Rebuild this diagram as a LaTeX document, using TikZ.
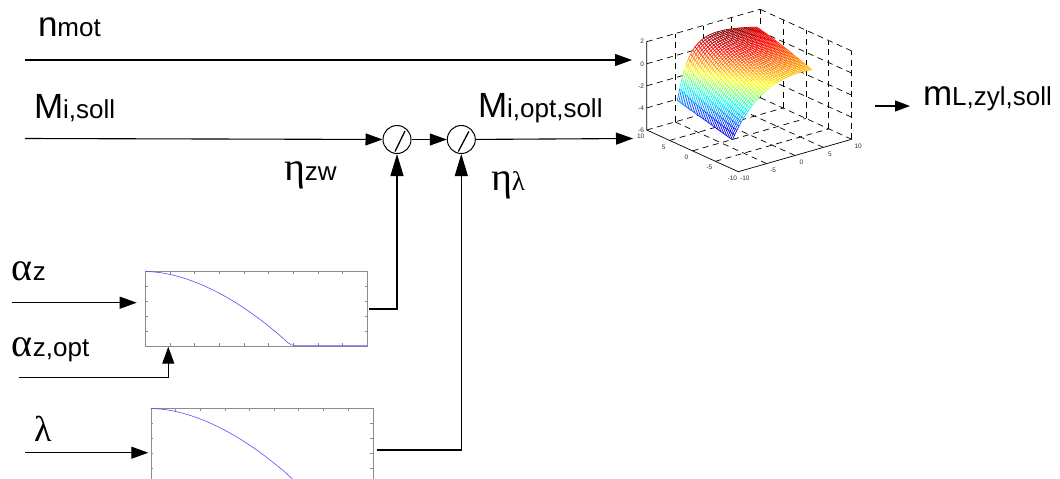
\documentclass[tikz,border=0pt]{standalone}
\usepackage{fontspec}
\setmainfont{Liberation Sans}
\newfontfamily\grk{Liberation Serif}
\usetikzlibrary{arrows.meta,calc}
\newcommand{\bigf}{\fontsize{35}{40}\selectfont}
\newcommand{\subf}{\fontsize{26}{30}\selectfont}
\newcommand{\grkf}{\grk\fontsize{40}{44}\selectfont}
\newcommand{\grks}{\grk\fontsize{27}{30}\selectfont}
\newcommand{\tickf}{\fontsize{6.5}{7}\selectfont}
\begin{document}
\begin{tikzpicture}[x=1pt,y=-1pt,
  conn/.style={line width=1.1pt, black},
  arr/.style={-{Triangle[length=17pt,width=12pt]}},
  arrup/.style={-{Triangle[length=22pt,width=13pt]}},
  arrsm/.style={-{Triangle[length=15pt,width=11pt]}},
  lbl/.style={anchor=base west, inner sep=0pt, outer sep=0pt},
  lut/.style={draw=black!45, line width=0.6pt, inner sep=0pt, minimum width=221.6pt, minimum height=74.3pt},
  curve/.style={color={rgb,255:red,80;green,80;blue,255}, line width=0.6pt},
  tk/.style={black!45, line width=0.5pt},
  grid3/.style={black, line width=0.7pt, dash pattern=on 6pt off 4.5pt},
  ax3/.style={black, line width=0.7pt},
  mesh/.style={line width=0.68pt},
  summ/.style={circle, draw, line width=1pt, minimum size=28pt, inner sep=0pt},
  tl/.style={font=\tickf, inner sep=0pt, text=black!80}]
\path[use as bounding box, fill=white] (0,0) rectangle (1060,479);
\clip (0,0) rectangle (1060,479);

% ---------- 3D map ----------
\begin{scope}[shift={(738.3,171.7)}, x={(113.4pt,32.4pt)}, y={(-91.6pt,41.7pt)}, z={(0pt,88.3pt)}]
  % floor grid
  \foreach \a in {0.25,0.5,0.75,1}{
    \draw[grid3] (\a,0,0) -- (\a,1,0);
    \draw[grid3] (0,\a,0) -- (1,\a,0);
  }
  % back-left wall (v=1)
  \foreach \a in {0.25,0.5,0.75,1}{
    \draw[grid3] (\a,1,0) -- (\a,1,1);
    \draw[grid3] (0,1,\a) -- (1,1,\a);
  }
  % back-right wall (u=1)
  \foreach \a in {0,0.25,0.5,0.75}{
    \draw[grid3] (1,\a,0) -- (1,\a,1);
  }
  \foreach \a in {0.25,0.5,0.75,1}{
    \draw[grid3] (1,0,\a) -- (1,1,\a);
  }
  % axes
  \draw[ax3] (0,1,1) -- (0,1,0) -- (0,0,0) -- (1,0,0);
  % tick labels
  \foreach \zl [count=\k from 0] in {-6,-4,-2,0,2}{
    \node[tl, anchor=east, xshift=-2.5pt, name=zlab\k] at (0,1,{\k/4}) {\zl};
  }
  \foreach \yl [count=\k from 0] in {-10,-5,0,5,10}{
    \node[tl, xshift=-6pt, yshift=-6.5pt, name=ylab\k] at (0,{\k/4},0) {\yl};
  }
  \foreach \xl [count=\k from 0] in {-10,-5,0,5,10}{
    \node[tl, xshift=6.5pt, yshift=-7pt, name=xlab\k] at ({\k/4},0,0) {\xl};
  }
  % surface vertices
  \foreach \i in {0,...,36}{
    \foreach \j in {0,...,36}{
      \pgfmathsetmacro{\sv}{\i/36}
      \pgfmathsetmacro{\tv}{\j/36}
      \pgfmathsetmacro{\zv}{-4.5+1.3*\tv+(5.77-0.17*\tv)*(1-exp(-\sv/(0.4-0.26*\tv)))-\sv*\sv}
      \pgfmathsetmacro{\cv}{(\zv+5)/7}
      \pgfmathsetmacro{\jr}{max(0,min(1,1.5-abs(4*\cv-3)))}
      \pgfmathsetmacro{\jg}{max(0,min(1,1.5-abs(4*\cv-2)))}
      \pgfmathsetmacro{\jb}{max(0,min(1,1.5-abs(4*\cv-1)))}
      \xglobal\definecolor{jc\i y\j}{rgb}{\jr,\jg,\jb}
      \coordinate (p\i y\j) at ({0.15+0.7*\sv},{0.25+0.6*\tv},{(\zv+6)/8});
    }
  }
  % hide what is behind the surface
  \fill[white] (p0y0) \foreach \i in {1,...,36}{ -- (p\i y0)}
    \foreach \j in {1,...,36}{ -- (p36y\j)}
    \foreach \i in {35,...,0}{ -- (p\i y36)}
    \foreach \j in {35,...,1}{ -- (p0y\j)} -- cycle;
  % mesh lines
  \foreach \i in {0,...,36}{
    \foreach \j [evaluate=\j as \jn using int(\j+1)] in {0,...,35}{
      \draw[mesh, color=jc\i y\j] (p\i y\j) -- (p\i y\jn);
      \draw[mesh, color=jc\j y\i] (p\j y\i) -- (p\jn y\i);
    }
  }
\end{scope}

% ---------- lookup boxes ----------
\node[lut] (b1) at (256.5,308.85) {};
\node[lut] (b2) at (262,445.85) {};
\foreach \bx in {b1,b2}{
  \begin{scope}[shift={(\bx.north west)}]
    \foreach \k in {1,...,8}{
      \draw[tk] ({\k*221.6/9},0) -- ++(0,2.5);
      \draw[tk] ({\k*221.6/9},74.3) -- ++(0,-2.5);
    }
    \foreach \k in {1,...,4}{
      \draw[tk] (0,{\k*74.3/5}) -- ++(2.5,0);
      \draw[tk] (221.6,{\k*74.3/5}) -- ++(-2.5,0);
    }
    \draw[curve] plot[smooth] coordinates {(0,0) (14.6,1.18) (29.2,4.10) (43.8,8.51) (58.4,14.28) (73,21.34) (87.6,29.62) (102.2,39.10) (116.8,49.72) (131.4,61.46) (135.8,65.2)}
      .. controls (139.8,68.7) and (144,74.3) .. (150,74.3) -- (221.6,74.3);
  \end{scope}
}

% ---------- division points ----------
\node[summ] (c1) at (397,139.5) {};
\node[summ] (c2) at (461.3,139.5) {};
\draw[line width=1.3pt] ($(c1)+(-2,12)$) -- ($(c1)+(8,-8.5)$);
\draw[line width=1.3pt] ($(c2)+(-3,12)$) -- ($(c2)+(7.5,-8)$);

% ---------- free ends ----------
\coordinate (nin) at (25,60);
\coordinate (nout) at (632,60);
\coordinate (min) at (25,138.5);
\coordinate (mout) at (633,138.5);
\coordinate (mla) at (875,106);
\coordinate (mlb) at (910,106);
\coordinate (az) at (12,302.7);
\coordinate (azt) at (136.7,302.7);
\coordinate (azo) at (19,377.7);
\coordinate (azot) at (168.3,346.7);
\coordinate (lam) at (25,452.7);
\coordinate (lamt) at (148.3,452.7);
\coordinate (o1) at (369.3,309);
\coordinate (o2) at (376.7,450);

% ---------- connectors ----------
\draw[conn,arr] (nin) -- (nout);
\draw[conn,arr] (min) -- (c1);
\draw[conn,arr] (c1) -- (c2);
\draw[conn,arr] (c2) -- (mout);
\draw[conn,arrsm] (mla) -- (mlb);
\draw[conn,arr] (az) -- (azt);
\draw[conn,arr] (azo) -| (azot);
\draw[conn,arr] (lam) -- (lamt);
\draw[conn,arrup] (o1) -| (c1.south);
\draw[conn,arrup] (o2) -| (c2.south);

% ---------- labels ----------
\node[lbl] (lnmot) at (38,36) {{\bigf n}{\subf mot}};
\node[lbl] (lmis) at (34,118) {{\bigf M}{\subf i,soll}};
\node[lbl] (lmios) at (478,117) {{\bigf M}{\subf i,opt,soll}};
\node[lbl] (lml) at (923,105) {{\bigf m}{\subf L,zyl,soll}};
\node[lbl] (letazw) at (284,180) {{\grkf η}{\subf zw}};
\node[lbl] (letal) at (491,190) {{\grkf η}{\grks λ}};
\node[lbl] (laz) at (12,280) {{\grkf α}{\subf z}};
\node[lbl] (lazo) at (12,356) {{\grkf α}{\subf z,opt}};
\node[lbl] (llam) at (34,441.7) {{\grk\fontsize{36}{40}\selectfont λ}};
\end{tikzpicture}
\end{document}
